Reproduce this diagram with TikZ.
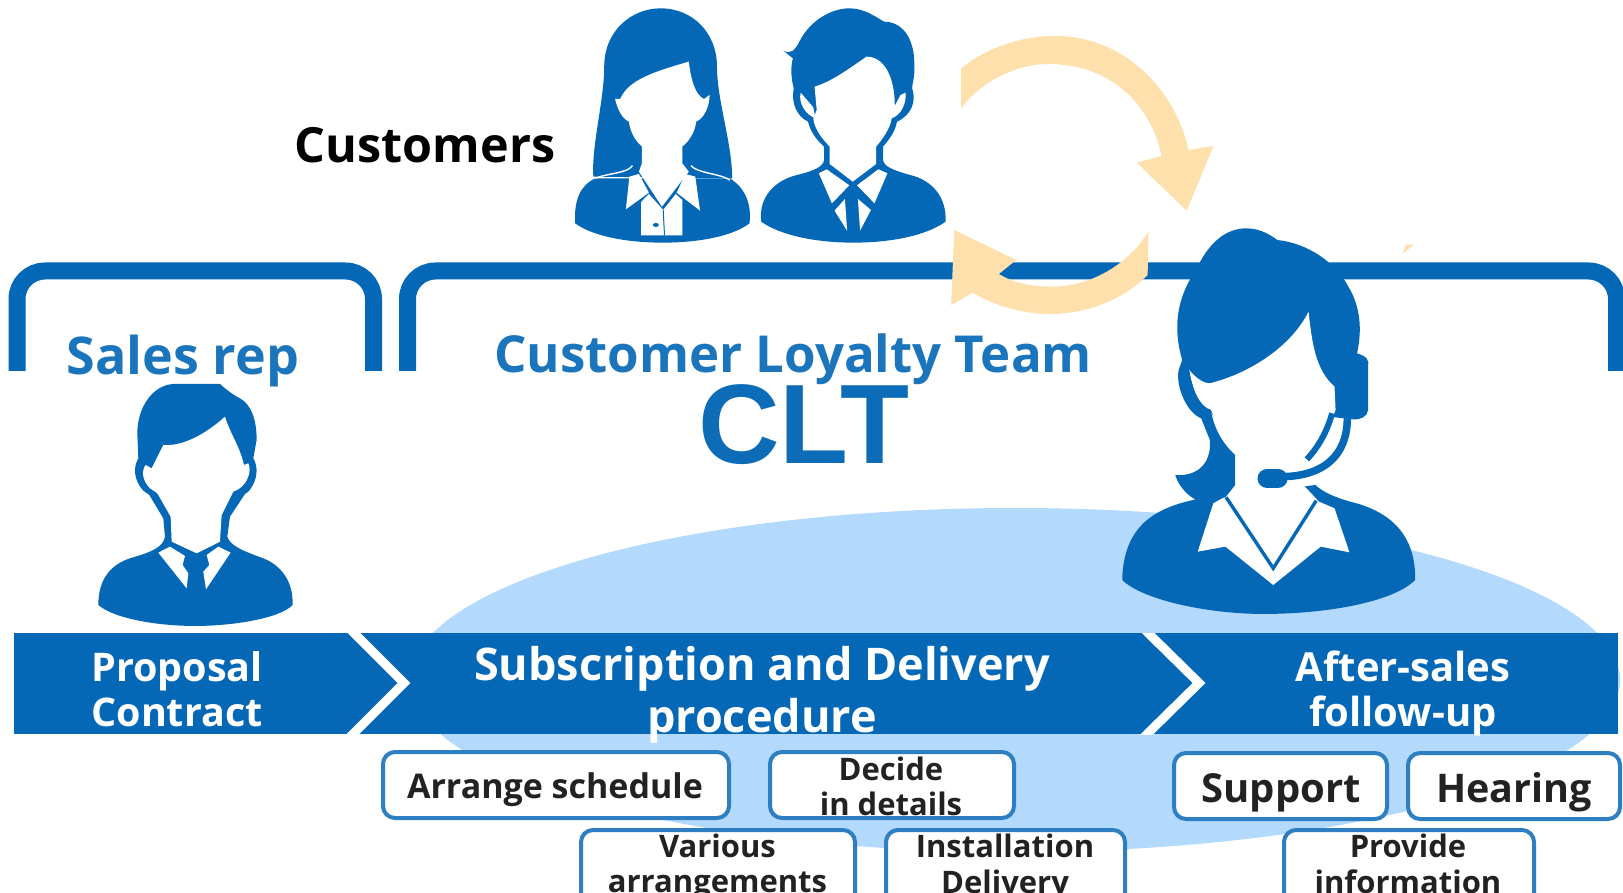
\documentclass[tikz,border=0pt]{standalone}
\usepackage{fontspec}
\setmainfont{Open Sans}
\newfontfamily\cltfont{Liberation Sans}
\definecolor{bluefig}{HTML}{0468B7}
\definecolor{bluetext}{HTML}{1B75BC}
\definecolor{cltblue}{HTML}{0C6CB8}
\definecolor{ellipsefill}{HTML}{B3D9FD}
\definecolor{orangeloop}{HTML}{FEE0AD}
\definecolor{boxline}{HTML}{2E7FC1}
\definecolor{boxtext}{HTML}{222222}
\newcommand{\fsz}[2]{\fontsize{#1}{#2}\selectfont\bfseries}
\tikzset{
  fig/.style={fill=bluefig,draw=none},
  cut/.style={fill=white,draw=none},
  loopa/.style={fill=orangeloop,draw=none},
  bracket/.style={draw=bluefig,line width=17pt,line cap=butt,rounded corners=28pt},
  taskbox/.style={draw=boxline,line width=4pt,fill=white,rounded corners=12pt},
  lbl/.style={align=center,inner sep=0pt,anchor=base},
  tasklbl/.style={lbl,text=boxtext},
  bandlbl/.style={lbl,text=white},
  chev/.style={draw=white,line width=9pt,miter limit=10},
}
\begin{document}
\begin{tikzpicture}[x=1pt,y=-1pt]
\useasboundingbox (0,0) rectangle (1623,893);
\fill[white] (0,0) rectangle (1623,893);

% team brackets
\draw[bracket] (17,371) -- (17,271) -- (373.5,271) -- (373.5,371);
\draw[bracket] (407.5,371) -- (407.5,271) -- (1616.5,271) -- (1616.5,371);

% soft background ellipse
\fill[ellipsefill] (1015,680) ellipse [x radius=605,y radius=172];

% customers
\begin{scope}[shift={(550,0)},xscale=.4337,yscale=.3333]
  % woman
  \path[fig] (100,530) .. controls (95,440) and (125,300) .. (125,200) .. controls (125,90) and (190,25) .. (255,25) .. controls (330,25) and (385,100) .. (385,200) .. controls (385,300) and (420,430) .. (420,535) -- cycle;
  \path[fig] (105,535) .. controls (70,555) and (55,600) .. (58,670) .. controls (100,710) and (180,728) .. (260,728) .. controls (340,728) and (420,710) .. (460,670) .. controls (465,610) and (450,565) .. (415,535) -- cycle;
  \path[cut] (150,297) -- (162,297) .. controls (180,240) and (240,215) .. (320,185) .. controls (325,240) and (335,285) .. (355,297) -- (368,285) .. controls (368,320) and (355,355) .. (337,365) .. controls (335,395) and (320,425) .. (305,440) -- (305,490) -- (320,515) -- (258,620) -- (205,515) -- (212,490) -- (212,440) .. controls (195,420) and (185,395) .. (182,365) .. controls (165,355) and (155,325) .. (150,297) -- cycle;
  \path[cut] (205,522) -- (183,530) -- (175,628) -- (228,578) -- cycle;
  \path[cut] (312,522) -- (335,530) -- (346,632) -- (292,578) -- cycle;
  \path[cut] (228,582) -- (210,606) -- (210,706) -- (305,706) -- (305,600) -- (290,582) -- (261,630) -- cycle;
  \fill[bluefig] (244,675) ellipse [x radius=7,y radius=6];
  \draw[bluefig,line width=1pt] (261,630) -- (264,706);
  \draw[white,line width=1.4pt] (105,535) .. controls (130,520) and (180,520) .. (190,497);
  \draw[white,line width=1.4pt] (325,497) .. controls (340,520) and (390,520) .. (415,540);
  % man
  \path[fig] (538,152) .. controls (555,165) and (565,150) .. (575,125) .. controls (600,60) and (650,25) .. (690,25) .. controls (725,25) and (750,50) .. (770,65) .. controls (815,65) and (840,120) .. (840,190) .. controls (842,230) and (835,250) .. (835,265) .. controls (845,300) and (835,345) .. (800,365) .. controls (795,400) and (780,420) .. (768,440) -- (768,480) .. controls (770,500) and (790,510) .. (830,525) .. controls (880,540) and (915,590) .. (912,665) .. controls (870,705) and (790,728) .. (700,728) .. controls (610,728) and (530,705) .. (487,665) .. controls (480,590) and (520,540) .. (570,525) .. controls (610,512) and (630,500) .. (632,480) -- (632,440) .. controls (615,420) and (600,395) .. (595,365) .. controls (570,350) and (555,310) .. (562,265) .. controls (555,230) and (555,200) .. (560,175) -- cycle;
  \path[cut] (610,260) .. controls (650,245) and (690,205) .. (730,170) .. controls (770,170) and (795,230) .. (795,318) -- (808,285) -- (820,278) .. controls (822,310) and (810,345) .. (788,355) .. controls (785,385) and (765,420) .. (752,440) -- (752,492) -- (698,545) -- (645,492) -- (645,440) .. controls (630,420) and (610,390) .. (607,355) -- (615,330) -- cycle;
  \path[cut] (578,278) .. controls (572,310) and (590,345) .. (612,355) -- (607,322) -- cycle;
  \path[cut] (620,520) -- (638,508) -- (690,556) -- (650,610) -- cycle;
  \path[cut] (778,520) -- (757,508) -- (708,556) -- (748,610) -- cycle;
  \path[cut] (680,597) -- (656,632) -- (685,692) -- cycle;
  \path[cut] (710,597) -- (740,630) -- (715,692) -- cycle;
  % circular arrows
  \path[loopa] (948,205) .. controls (1010,140) and (1090,108) .. (1165,108) .. controls (1330,108) and (1445,280) .. (1472,450) -- (1530,438) -- (1468,632) -- (1353,488) -- (1410,468) .. controls (1385,310) and (1290,192) .. (1150,192) .. controls (1070,192) and (990,250) .. (948,325) -- cycle;
  \path[loopa] (1380,695) -- (1378,825) .. controls (1320,900) and (1240,942) .. (1150,942) .. controls (1090,942) and (1020,915) .. (975,878) -- (925,915) -- (932,690) -- (1075,780) -- (1035,822) .. controls (1070,850) and (1110,860) .. (1160,860) .. controls (1240,860) and (1330,800) .. (1380,695) -- cycle;
\end{scope}

% sales rep figure
\begin{scope}[shift={(0,250)},scale=.3333]
  \path[fig] (412,550) .. controls (412,470) and (460,405) .. (520,402) -- (660,402) .. controls (680,420) and (700,435) .. (720,445) .. controls (755,465) and (770,510) .. (770,570) -- (760,625) .. controls (775,650) and (775,690) .. (745,725) -- (735,732) -- (690,800) -- (682,860) .. controls (690,885) and (720,900) .. (790,925) .. controls (840,945) and (880,990) .. (878,1065) .. controls (840,1105) and (700,1128) .. (585,1128) .. controls (470,1128) and (340,1105) .. (295,1065) .. controls (295,990) and (330,945) .. (390,925) .. controls (460,905) and (490,890) .. (495,860) -- (490,805) -- (448,735) -- (430,722) .. controls (400,690) and (400,650) .. (415,625) -- cycle;
  \path[cut] (455,655) -- (490,585) .. controls (550,590) and (620,550) .. (675,500) .. controls (690,550) and (720,590) .. (732,645) -- (745,640) .. controls (755,660) and (745,700) .. (715,718) -- (700,725) -- (665,795) -- (660,875) -- (590,910) -- (515,875) -- (512,800) -- (472,730) -- (450,715) .. controls (425,690) and (425,660) .. (437,645) -- cycle;
  \path[cut] (475,908) -- (510,890) -- (555,918) -- (548,945) -- (565,970) -- (560,1015) -- cycle;
  \path[cut] (692,908) -- (655,890) -- (620,915) -- (628,945) -- (610,965) -- (618,1018) -- cycle;
\end{scope}

% agent figure
\begin{scope}[shift={(1080,210)},xscale=.3463,yscale=.3333]
  \path[fig] (335,868) .. controls (240,890) and (125,930) .. (122,1110) .. controls (180,1170) and (370,1212) .. (530,1212) .. controls (700,1212) and (900,1180) .. (968,1110) .. controls (970,960) and (880,900) .. (780,875) .. controls (730,860) and (700,845) .. (680,825) -- (420,860) -- cycle;
  \path[cut] (385,880) -- (340,1025) -- (420,1010) -- (558,1125) -- (695,1010) -- (778,1027) -- (735,895) -- (690,875) -- (645,825) -- (448,825) -- (420,860) -- cycle;
  \draw[bluefig,line width=3.4pt] (422,862) -- (558,1075) -- (682,872);
  \path[fig] (295,450) .. controls (270,360) and (275,270) .. (335,180) .. controls (370,100) and (420,55) .. (480,55) .. controls (520,55) and (550,75) .. (570,90) .. controls (660,100) and (740,160) .. (775,230) .. controls (810,290) and (815,360) .. (800,430) .. controls (830,440) and (835,450) .. (832,470) -- (832,600) .. controls (830,620) and (810,630) .. (788,628) -- (720,620) -- (400,640) -- (295,480) -- cycle;
  \path[cut] (315,480) .. controls (340,510) and (360,520) .. (375,520) .. controls (490,490) and (610,410) .. (660,305) .. controls (670,400) and (680,480) .. (735,530) -- (738,600) -- (720,650) -- (400,650) -- (378,600) .. controls (345,590) and (325,540) .. (315,480) -- cycle;
  \path[fig] (295,450) -- (315,480) .. controls (325,540) and (345,590) .. (378,600) .. controls (385,650) and (410,700) .. (448,735) -- (448,825) -- (420,862) -- (335,870) .. controls (310,855) and (285,830) .. (275,795) .. controls (340,800) and (380,760) .. (375,690) -- (350,625) .. controls (310,610) and (275,530) .. (285,480) -- cycle;
  \draw[bluefig,line width=6pt] (728,610) .. controls (715,660) and (690,710) .. (655,748);
  \draw[bluefig,line width=7.5pt] (772,625) .. controls (772,710) and (730,795) .. (590,800);
  \draw[bluefig,line width=19pt,line cap=round] (540,805) -- (572,805);
  \path[loopa] (933,130) -- (940,105) -- (963,105) -- cycle;
\end{scope}

% process band
\fill[bluefig] (14,633) rectangle (1618,734);
\begin{scope}
  \clip (14,633) rectangle (1618,734);
  \draw[chev] (344,623) -- (404,683) -- (344,743);
  \draw[chev] (1138,623) -- (1199,683) -- (1138,743);
\end{scope}

% task boxes
\path[taskbox] (383,752) rectangle (729,818);
\path[taskbox] (770,752) rectangle (1014,818);
\path[taskbox] (581,830) rectangle (855,915);
\path[taskbox] (886,830) rectangle (1125,915);
\path[taskbox] (1174,753) rectangle (1387,819);
\path[taskbox] (1408,753) rectangle (1620,819);
\path[taskbox] (1284,830) rectangle (1534,915);

% labels
\node[lbl,text=black,font=\fsz{48.5}{48}] (customers) at (425,163) {Customers};
\node[lbl,text=bluetext,font=\fsz{52}{52}] (salesrep) at (183,374) {Sales rep};
\node[lbl,text=bluetext,font=\fsz{51}{51}] (clt) at (793,373) {Customer Loyalty Team};
\node[lbl,text=cltblue,font=\cltfont\fsz{113}{113}] (cltbig) at (804,463) {CLT};
\node[bandlbl,font=\fsz{39.5}{45}] (proposal) at (177,726) {Proposal\\Contract};
\node[bandlbl,font=\fsz{45}{52}] (subscription) at (762,732) {Subscription and Delivery\\procedure};
\node[bandlbl,font=\fsz{40}{45}] (aftersales) at (1403,726) {After-sales\\follow-up};
\node[tasklbl,font=\fsz{34}{34}] (arrange) at (555,798) {Arrange schedule};
\node[tasklbl,font=\fsz{31}{35}] (decide) at (891,815) {Decide\\in details};
\node[tasklbl,font=\fsz{31}{35}] (various) at (717.5,892) {Various\\arrangements};
\node[tasklbl,font=\fsz{31}{36}] (installation) at (1005,893) {Installation\\Delivery};
\node[tasklbl,font=\fsz{40}{40}] (support) at (1281,802) {Support};
\node[tasklbl,font=\fsz{39.5}{40}] (hearing) at (1514,802) {Hearing};
\node[tasklbl,font=\fsz{31}{36}] (provide) at (1408,893) {Provide\\information};
\end{tikzpicture}
\end{document}
